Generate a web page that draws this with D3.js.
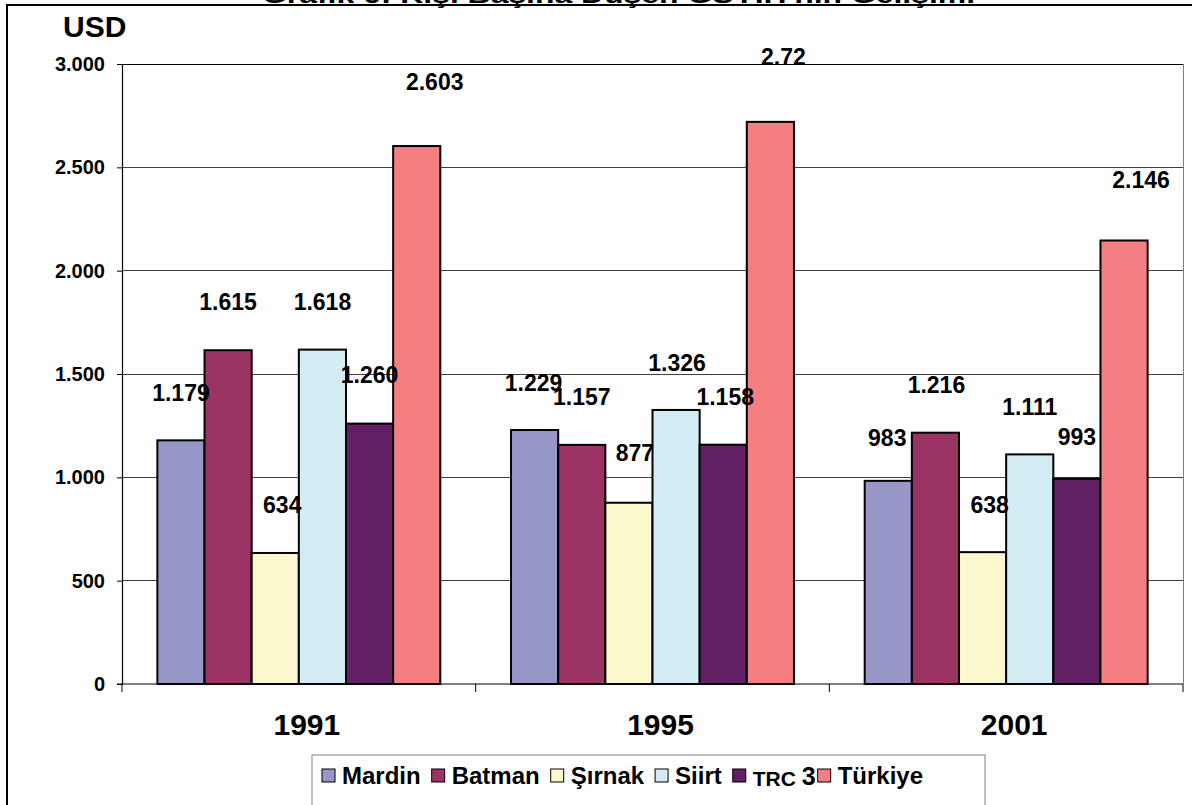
<!DOCTYPE html>
<html>
<head>
<meta charset="utf-8">
<script src="https://cdn.jsdelivr.net/npm/d3@7/dist/d3.min.js"></script>
<style>
	body { margin: 0; background: #fff; }
	#chart-area { width: 1192px; height: 805px; overflow: hidden; }
	text { font-family: "Liberation Sans", Arial, sans-serif; font-weight: bold; fill: #000; }
</style>
</head>
<body>
<div id="chart-area"></div>
<script>

// categories and series
const years = ["1991", "1995", "2001"];
const seriesNames = ["Mardin", "Batman", "Şırnak", "Siirt", "TRC 3", "Türkiye"];

// per capita GDP values (USD), one array per series, in year order
const mardin  = [1179, 1229, 983];
const batman  = [1615, 1157, 1216];
const sirnak  = [634, 877, 638];
const siirt   = [1618, 1326, 1111];
const trc3    = [1260, 1158, 993];
const turkiye = [2603, 2720, 2146];

// data labels exactly as printed on the chart
const mardinLabels  = ["1.179", "1.229", "983"];
const batmanLabels  = ["1.615", "1.157", "1.216"];
const sirnakLabels  = ["634", "877", "638"];
const siirtLabels   = ["1.618", "1.326", "1.111"];
const trc3Labels    = ["1.260", "1.158", "993"];
const turkiyeLabels = ["2.603", "2.72", "2.146"];

// y axis tick values
const yTicks = [0, 500, 1000, 1500, 2000, 2500, 3000];

const seriesColors = ["#9696c8", "#9b3464", "#fbf8cd", "#d3ecf3", "#621f63", "#f47e80"];

// manual label nudges (px) as placed in the original chart: [dx, dy] from bar top centre
const labelShift = [
	[[0, -47], [-1, -47], [-1, -43]],
	[[0, -48], [0, -48], [1, -48]],
	[[7, -48], [6, -50], [7, -47]],
	[[0, -48], [1, -47], [0, -47]],
	[[0, -49], [2, -48], [0, -42]],
	[[18, -64], [13, -65], [17, -60]]
];


class GroupedBarChart {

	constructor(parentElement, data) {
		this.parentElement = parentElement;
		this.data = data;
		this.initVis();
	}

	initVis() {
		let vis = this;

		vis.margin = {top: 64, right: 9, bottom: 121, left: 122};
		vis.totalWidth = 1192;
		vis.totalHeight = 805;
		vis.width = vis.totalWidth - vis.margin.left - vis.margin.right;
		vis.height = vis.totalHeight - vis.margin.top - vis.margin.bottom;

		vis.root = d3.select("#" + vis.parentElement).append("svg")
			.attr("width", vis.totalWidth)
			.attr("height", vis.totalHeight);

		// outer chart border (bottom/right fall outside the picture)
		vis.root.append("rect")
			.attr("x", 7).attr("y", 5)
			.attr("width", 1300).attr("height", 1000)
			.attr("fill", "#fff")
			.attr("stroke", "#000")
			.attr("stroke-width", 2);

		// title, cut off by the top edge like in the source
		vis.root.append("text")
			.attr("x", 262)
			.attr("y", 3)
			.attr("textLength", 713)
			.attr("lengthAdjust", "spacingAndGlyphs")
			.style("font-size", "24px")
			.text("Grafik 6: Kişi Başına Düşen GSYİH'nın Gelişimi");

		vis.svg = vis.root.append("g")
			.attr("transform", "translate(" + vis.margin.left + "," + vis.margin.top + ")");

		// scales
		vis.x0 = d3.scaleBand()
			.domain(years)
			.range([0, vis.width])
			.padding(0);

		vis.x1 = d3.scaleBand()
			.domain(seriesNames)
			.range([vis.x0.bandwidth() * 0.1, vis.x0.bandwidth() * 0.9])
			.padding(0);

		vis.y = d3.scaleLinear()
			.domain([0, 3000])
			.range([vis.height, 0]);

		vis.color = d3.scaleOrdinal()
			.domain(seriesNames)
			.range(seriesColors);

		vis.fmt = d3.formatLocale({decimal: ",", thousands: ".", grouping: [3], currency: ["", ""]}).format(",");

		// gridlines
		vis.svg.append("g")
			.attr("class", "grid")
			.selectAll("line")
			.data(yTicks.filter(d => d > 0))
			.enter().append("line")
			.attr("x1", 0)
			.attr("x2", vis.width)
			.attr("y1", d => vis.y(d))
			.attr("y2", d => vis.y(d))
			.attr("stroke", d => d === 3000 ? "#000" : "#404040")
			.attr("stroke-width", 1)
			.attr("shape-rendering", "crispEdges");

		// right edge of plot area
		vis.svg.append("line")
			.attr("x1", vis.width).attr("x2", vis.width)
			.attr("y1", 0).attr("y2", vis.height)
			.attr("stroke", "#808080")
			.attr("shape-rendering", "crispEdges");

		vis.updateVis();
	}

	updateVis() {
		let vis = this;

		// flatten for bars and labels
		vis.displayData = [];
		vis.data.forEach((s, i) => {
			s.values.forEach((v, j) => {
				vis.displayData.push({name: s.name, year: years[j], value: v, label: s.labels[j], shift: labelShift[i][j]});
			});
		});

		// bars
		vis.svg.append("g")
			.attr("class", "bars")
			.selectAll("rect")
			.data(vis.displayData)
			.enter().append("rect")
			.attr("x", d => vis.x0(d.year) + vis.x1(d.name))
			.attr("y", d => vis.y(d.value))
			.attr("width", vis.x1.bandwidth())
			.attr("height", d => vis.height - vis.y(d.value))
			.attr("fill", d => vis.color(d.name))
			.attr("stroke", "#000")
			.attr("stroke-width", 2);

		// y axis
		vis.yAxis = d3.axisLeft(vis.y)
			.tickValues(yTicks)
			.tickSize(5)
			.tickSizeOuter(0)
			.tickFormat(vis.fmt);

		let yg = vis.svg.append("g")
			.attr("class", "y-axis axis")
			.call(vis.yAxis);
		yg.select(".domain").attr("stroke", "#000").attr("stroke-width", 1.2);
		yg.selectAll(".tick line").attr("stroke", "#000");
		yg.selectAll(".tick text")
			.attr("x", -17)
			.style("font-size", "20px")
			.style("font-family", "'Liberation Sans', Arial, sans-serif")
			.style("font-weight", "bold");

		// x axis line and category boundary ticks
		vis.svg.append("line")
			.attr("x1", -5).attr("x2", vis.width)
			.attr("y1", vis.height).attr("y2", vis.height)
			.attr("stroke", "#000")
			.attr("stroke-width", 1.2);

		let bounds = years.map(d => vis.x0(d)).concat([vis.width]);
		vis.svg.append("g")
			.selectAll("line")
			.data(bounds)
			.enter().append("line")
			.attr("x1", d => d).attr("x2", d => d)
			.attr("y1", vis.height).attr("y2", vis.height + 8)
			.attr("stroke", "#000");

		vis.xAxis = d3.axisBottom(vis.x0).tickSize(0);
		let xg = vis.svg.append("g")
			.attr("class", "x-axis axis")
			.attr("transform", "translate(0," + vis.height + ")")
			.call(vis.xAxis);
		xg.select(".domain").remove();
		xg.selectAll(".tick text")
			.attr("y", 51)
			.attr("dy", 0)
			.attr("dx", 8)
			.style("font-size", "30px")
			.style("font-family", "'Liberation Sans', Arial, sans-serif")
			.style("font-weight", "bold");

		// y axis unit
		vis.svg.append("text")
			.attr("x", -59)
			.attr("y", -27)
			.style("font-size", "30px")
			.text("USD");

		// data labels, drawn above all bars
		vis.svg.append("g")
			.attr("class", "labels")
			.selectAll("text")
			.data(vis.displayData)
			.enter().append("text")
			.attr("x", d => vis.x0(d.year) + vis.x1(d.name) + vis.x1.bandwidth() / 2 + d.shift[0])
			.attr("y", d => vis.y(d.value) + d.shift[1])
			.attr("text-anchor", "middle")
			.attr("dominant-baseline", "central")
			.style("font-size", "23px")
			.text(d => d.label);

		// legend
		let legend = vis.root.append("g")
			.attr("transform", "translate(312,755)");

		legend.append("rect")
			.attr("width", 673)
			.attr("height", 80)
			.attr("fill", "#fff")
			.attr("stroke", "#808080");

		let cursor = 10;
		seriesNames.forEach((name, i) => {
			legend.append("rect")
				.attr("x", cursor).attr("y", 14)
				.attr("width", 13).attr("height", 13)
				.attr("fill", seriesColors[i])
				.attr("stroke", "#000");

			let t = legend.append("text")
				.attr("x", cursor + 20)
				.attr("y", 29)
				.style("font-size", "24px");

			if (name === "TRC 3") {
				t.append("tspan").style("font-size", "21px").attr("dy", 2).text("TRC ");
				t.append("tspan").style("font-size", "25px").attr("dy", -1).text("3");
				cursor += 20 + t.node().getComputedTextLength() + 2;
			} else {
				t.text(name);
				cursor += 20 + t.node().getComputedTextLength() + 11;
			}
		});
	}
}

let chartData = [
	{name: seriesNames[0], values: mardin, labels: mardinLabels},
	{name: seriesNames[1], values: batman, labels: batmanLabels},
	{name: seriesNames[2], values: sirnak, labels: sirnakLabels},
	{name: seriesNames[3], values: siirt, labels: siirtLabels},
	{name: seriesNames[4], values: trc3, labels: trc3Labels},
	{name: seriesNames[5], values: turkiye, labels: turkiyeLabels}
];

let chart = new GroupedBarChart("chart-area", chartData);

</script>
</body>
</html>
